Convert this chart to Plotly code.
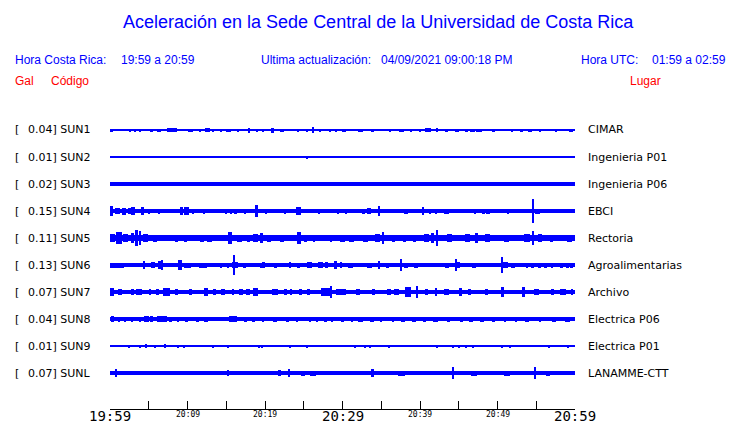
import plotly.graph_objects as go

# ---------------- data ----------------
stations = ["SUN1", "SUN2", "SUN3", "SUN4", "SUN5", "SUN6", "SUN7", "SUN8", "SUN9", "SUNL"]
gal_values = ["0.04", "0.01", "0.02", "0.15", "0.11", "0.13", "0.07", "0.04", "0.01", "0.07"]
places = ["CIMAR", "Ingenieria P01", "Ingenieria P06", "EBCI", "Rectoria", "Agroalimentarias",
          "Archivo", "Electrica P06", "Electrica P01", "LANAMME-CTT"]
# background (noise) half-amplitude of each trace, in display units (1 row = 27 units)
base_amp = [0.7, 0.5, 1.8, 1.8, 3.0, 1.8, 2.2, 2.0, 0.55, 1.8]

# bursts: (minute after 19:59, half amplitude, duration in minutes)
sun1_bursts = [(0.2, 1.5, .4), (2.6, 1.5, .2), (3.2, 1.5, .2), (3.9, 1.5, .2), (5.3, 1.5, .4), (6.3, 1.5, .6),
               (7.6, 2, .3), (8.0, 2, 1.2), (10.4, 1.5, .6), (11.6, 1.5, .3), (12.6, 2, .6), (13.3, 1.5, .3),
               (14.3, 1.5, .3), (15.3, 1.5, .6), (16.6, 1.5, .2), (17.9, 2.5, .3), (19.0, 1.5, .2), (19.8, 1.5, .2),
               (21.0, 2.5, .2), (22.2, 1.5, .6), (24.3, 1.5, .2), (25.4, 1.5, .3), (26.2, 3, .2), (27.1, 1.5, .3),
               (28.4, 1.5, .2), (29.2, 1.5, .2), (30.2, 1.5, .6), (32.3, 1.5, .6), (33.9, 1.5, .2), (36.1, 1.5, .2),
               (37.6, 1.5, .6), (38.9, 1.5, .2), (40.0, 1.5, .3), (41.0, 2, .8), (42.2, 2, .3), (43.4, 1.5, .3),
               (44.8, 1.5, .5), (46.0, 1.5, .3), (46.8, 1.5, .6), (47.6, 1.5, .8), (49.5, 1.5, .3), (51.9, 1.5, .3),
               (53.1, 1.5, .3), (54.2, 1.5, .5), (55.5, 1.5, .2), (57.6, 1.5, .2), (59.5, 1.5, .5)]
sun2_bursts = [(25.4, 1.5, 0.15)]
sun3_bursts = [(33.5, 2.4, 0.2), (42.6, 2.4, 0.2), (58.7, 2.4, 0.3)]
sun4_bursts = [(0.2, 5, .4), (1.0, 3, .6), (1.8, 3.5, .6), (2.5, 3, .4), (3.0, 4, .5), (4.2, 4, .4), (5.1, 2.5, .2),
               (6.4, 2.5, .2), (9.2, 4, .4), (9.9, 4, .6), (10.8, 2.5, .2), (12.2, 2.5, .2), (15.0, 2.5, .3),
               (15.6, 2.5, .3), (16.2, 2.5, .3), (17.4, 2.5, .2), (18.9, 6, .4), (20.2, 2.5, .2), (22.6, 2.5, .2),
               (24.3, 4, .6), (27.0, 2.5, .2), (29.4, 2.5, .2), (30.5, 2.5, .2), (32.7, 2.5, .3), (33.4, 3, .6),
               (34.7, 5, .3), (38.2, 2.5, .5), (40.4, 4, .15), (41.3, 2.5, .3), (42.1, 2.5, .3), (43.4, 2.5, .6),
               (47.1, 2.5, .2), (48.2, 2.5, .5), (48.8, 2.5, .5), (51.4, 2.5, .2), (54.6, 12, .15), (55.2, 2.5, .6)]
sun5_bursts = [(0.3, 4, .6), (1.2, 6, .8), (2.0, 4, .6), (2.9, 5, .4), (3.4, 8, .3), (3.9, 7, .3), (4.6, 4, .6),
               (5.8, 3.5, .4), (8.6, 3.5, .4), (9.7, 3.5, .4), (11.9, 3.5, .5), (12.8, 3.5, .6), (15.5, 6, .6),
               (16.7, 3.5, .6), (17.9, 3.5, .4), (18.8, 4, .6), (19.5, 5, .4), (20.5, 3.5, .6), (22.2, 3.5, .6),
               (24.4, 6, .5), (25.2, 3.5, .4), (26.3, 3.5, .2), (28.6, 3.5, .2), (30.0, 3.5, .6), (31.2, 3.5, .6),
               (33.0, 3.5, .6), (34.5, 4, .6), (35.3, 6, .2), (36.6, 3.5, .4), (38.0, 3.5, .4), (39.3, 3.5, .4),
               (40.8, 4, .6), (41.6, 5, .4), (42.2, 8, .2), (43.8, 4, .6), (46.1, 4, .6), (47.3, 5, .3),
               (48.7, 4, .6), (51.2, 3.5, .6), (53.8, 4, .8), (54.6, 7, .3), (55.5, 4, .5), (57.0, 3.5, .2),
               (59.3, 3.5, .6)]
sun6_bursts = [(0.9, 2.5, 1.8), (4.4, 4, .15), (5.5, 3, .5), (6.5, 4, .5), (6.7, 5, .15), (9.0, 5, .5),
               (10.0, 2.5, .8), (12.0, 2.5, 1.0), (14.4, 2.5, .2), (15.2, 2.5, .2), (16.0, 10, .15), (16.1, 3, .8),
               (17.3, 2.5, .4), (19.5, 2.5, .4), (19.8, 3, .3), (21.3, 2.5, .4), (23.2, 3, .3), (24.3, 2.5, .4),
               (25.7, 3, .6), (27.2, 3, .6), (27.9, 3, .4), (29.1, 4, .4), (29.8, 3, .3), (31.0, 2.5, .6),
               (33.5, 2.5, .6), (34.7, 4, .15), (35.8, 2.5, .3), (37.6, 6, .15), (38.2, 2.5, .6), (39.5, 2.5, .6),
               (43.5, 2.5, .5), (44.7, 6, .15), (44.9, 3, .5), (47.0, 2.5, .5), (50.6, 8, .15), (50.9, 3, .8),
               (52.0, 2.5, .4), (53.8, 2.5, .3), (54.5, 2.5, .3), (55.4, 2.5, .3), (56.2, 2.5, .3), (57.0, 2.5, .3),
               (58.2, 2.5, .4), (59.0, 2.5, .4), (59.6, 2.5, .4)]
sun7_bursts = [(0.3, 4, .5), (1.3, 3, .6), (2.9, 3, .3), (3.7, 3, .8), (5.2, 3, .3), (6.1, 3, .4), (7.3, 4, .9),
               (8.6, 3, .4), (10.4, 3, .4), (12.4, 4, .6), (13.5, 3, .3), (14.6, 3, .6), (15.9, 3, .3), (16.9, 3, .4),
               (17.8, 3, .4), (18.8, 4, .6), (21.3, 3, .8), (22.6, 3, .4), (23.4, 3, .2), (24.6, 3, .4),
               (25.6, 3, .4), (27.8, 4, 1.2), (28.5, 6, .15), (29.6, 3, .8), (30.3, 3, .4), (32.0, 3, .4),
               (34.0, 3, .5), (36.0, 3, .6), (37.0, 3, .6), (38.5, 5, .8), (39.6, 6, .15), (40.8, 3, .4),
               (42.1, 4, .3), (43.4, 3, .6), (45.2, 4, .4), (46.4, 3, .4), (48.6, 3, .4), (50.6, 5, .4),
               (53.3, 5, .4), (55.0, 3, .6), (57.1, 3, .4), (58.5, 3, .8), (59.6, 3, .3)]
sun8_bursts = [(0.3, 3, .4), (1.2, 2.5, .2), (2.0, 2.5, .2), (2.9, 2.5, .2), (3.9, 2.5, .2), (4.7, 3, .6),
               (5.3, 3, .4), (6.7, 3, 1.2), (7.8, 2.5, .3), (8.8, 2.5, .3), (9.9, 2.5, .4), (11.3, 2.5, .3),
               (12.4, 2.5, .6), (15.9, 3, 1.0), (17.5, 2.5, .4), (18.5, 2.5, .4), (19.8, 2.5, .2), (21.3, 2.5, .6),
               (22.9, 2.5, .4), (24.1, 2.5, .3), (25.8, 2.5, .3), (26.8, 2.5, .2), (27.8, 2.5, .3), (28.7, 2.5, .2),
               (30.0, 2.5, .3), (31.2, 2.5, .3), (32.3, 2.5, .6), (33.8, 2.5, .5), (35.0, 2.5, .3), (36.5, 2.5, .3),
               (37.8, 2.5, .5), (39.2, 2.5, .5), (40.6, 2.5, .4), (42.0, 2.5, .6), (43.7, 2.5, .4), (45.3, 2.5, .4),
               (46.6, 2.5, .5), (48.0, 2.5, .6), (49.5, 2.5, .4), (51.0, 2.5, .3), (52.4, 2.5, .3), (53.8, 2.5, .4),
               (55.5, 2.5, .3), (57.3, 2.5, .5), (59.0, 2.5, .6)]
sun9_bursts = [(2.5, 1.5, .15), (3.9, 1.5, .15), (4.6, 2, .15), (5.8, 1.5, .15), (7.1, 2, .15), (8.8, 1.5, .15),
               (9.5, 1.5, .15), (13.3, 1.5, .15), (15.2, 1.5, .15), (19.3, 1.5, .15), (19.6, 1.5, .15),
               (23.2, 1.5, .15), (25.4, 1.5, .15), (31.6, 1.5, .15), (32.9, 1.5, .15), (33.6, 1.5, .15),
               (36.0, 1.5, .15), (42.2, 1.5, .15), (44.3, 1.5, .15), (45.1, 1.5, .15), (46.0, 1.5, .15),
               (46.8, 1.5, .15), (50.6, 1.5, .15), (51.6, 1.5, .15), (56.7, 1.5, .15), (59.1, 1.5, .15)]
sunl_bursts = [(0.8, 4, .2), (6.0, 2.3, .2), (8.0, 2.3, .3), (11.4, 2.3, .3), (15.2, 3, .2), (17.6, 2.3, .3),
               (18.9, 2.3, .3), (21.9, 3, .4), (23.1, 4, .3), (24.9, 2.5, .5), (26.2, 2.5, .8), (27.8, 2.3, .3),
               (30.5, 2.3, .5), (33.9, 4, .2), (37.6, 2.5, .8), (44.3, 6, .15), (47.0, 2.5, .8), (51.2, 2.5, .8),
               (54.9, 6, .15), (56.5, 2.5, .5)]
all_bursts = [sun1_bursts, sun2_bursts, sun3_bursts, sun4_bursts, sun5_bursts,
              sun6_bursts, sun7_bursts, sun8_bursts, sun9_bursts, sunl_bursts]

tick_minutes = list(range(0, 61, 5))
tick_labels = ["19:59", "20:09", "20:19", "20:29", "20:39", "20:49", "20:59"]
tick_label_minutes = [0, 10, 20, 30, 40, 50, 60]
big_labels = {"19:59", "20:29", "20:59"}

# ---------------- layout helpers (screen pixel coordinates) ----------------
OFF = 8                      # page body margin in the browser
W, H = 740 - OFF, 423 - OFF  # figure size
PLOT_L, PLOT_R, PLOT_T, PLOT_B = 110, 575, 117, 409  # plot area on screen
ML, MT = PLOT_L - OFF, PLOT_T - OFF
MR, MB = W - (PLOT_R - OFF), H - (PLOT_B - OFF)
PW, PH = PLOT_R - PLOT_L, PLOT_B - PLOT_T
ROW_PX = 27.0
Y0_PX = 130  # screen center of first row
y_top = -(Y0_PX - PLOT_T) / ROW_PX
y_bot = y_top + PH / ROW_PX

def px(x):
    return (x - PLOT_L) / PW

def py(y):
    return 1 - (y - PLOT_T) / PH

BLUE = "#0000ff"
RED = "#ff0000"

fig = go.Figure()
for i, st in enumerate(stations):
    xs = [30.0]
    ws = [60.0]
    amps = [base_amp[i]]
    for (m, a, w) in all_bursts[i]:
        xs.append(m)
        ws.append(w)
        amps.append(a)
    hs = [2 * a / ROW_PX for a in amps]
    bs = [i - a / ROW_PX for a in amps]
    fig.add_trace(go.Bar(x=xs, y=hs, base=bs, width=ws, name=st,
                         marker=dict(color=BLUE, line=dict(width=0)),
                         hoverinfo="skip", showlegend=False))

ann = []
def text(x, y, s, size, color="black", family="DejaVu Sans", xanchor="left"):
    ann.append(dict(x=px(x), y=py(y), xref="paper", yref="paper", text=s, showarrow=False,
                    xanchor=xanchor, yanchor="middle",
                    font=dict(size=size, color=color, family=family)))

# header
text(378, 22, "Aceleración en la Sede Central de la Universidad de Costa Rica", 18, BLUE,
     "Liberation Sans", "center")
text(13, 60, "Hora Costa Rica:", 12, BLUE, "Liberation Sans")
text(119, 60, "19:59 a 20:59", 12, BLUE, "Liberation Sans")
text(259, 60, "Ultima actualización:", 12, BLUE, "Liberation Sans")
text(379, 60, "04/09/2021 09:00:18 PM", 12, BLUE, "Liberation Sans")
text(579, 60, "Hora UTC:", 12, BLUE, "Liberation Sans")
text(650, 60, "01:59 a 02:59", 12, BLUE, "Liberation Sans")
text(13, 81, "Gal", 12, RED, "Liberation Sans")
text(49, 81, "Código", 12, RED, "Liberation Sans")
text(628, 81, "Lugar", 12, RED, "Liberation Sans")

# station labels
for i, st in enumerate(stations):
    yc = Y0_PX + i * ROW_PX
    text(13, yc, "[", 11)
    text(26, yc, f"{gal_values[i]}] {st}", 11)
    text(586, yc, places[i], 11)

# time labels
for lab, m in zip(tick_labels, tick_label_minutes):
    big = lab in big_labels
    ann.append(dict(x=m, y=py(416 if big else 414), xref="x", yref="paper", text=lab,
                    showarrow=False, xanchor="center", yanchor="middle",
                    font=dict(size=14 if big else 8, color="black", family="DejaVu Sans Mono")))

fig.update_layout(
    width=W, height=H, margin=dict(l=ML, r=MR, t=MT, b=MB, pad=0),
    paper_bgcolor="white", plot_bgcolor="white",
    barmode="overlay", bargap=0, showlegend=False,
    annotations=ann,
    xaxis=dict(range=[0, 60], showgrid=False, zeroline=False, showline=True, linecolor="black",
               linewidth=1, ticks="inside", ticklen=8, tickwidth=1, tickcolor="black",
               tickvals=tick_minutes, showticklabels=False, fixedrange=True),
    yaxis=dict(range=[y_bot, y_top], visible=False, fixedrange=True),
)

fig.write_html("out.html", config={"displayModeBar": False})
